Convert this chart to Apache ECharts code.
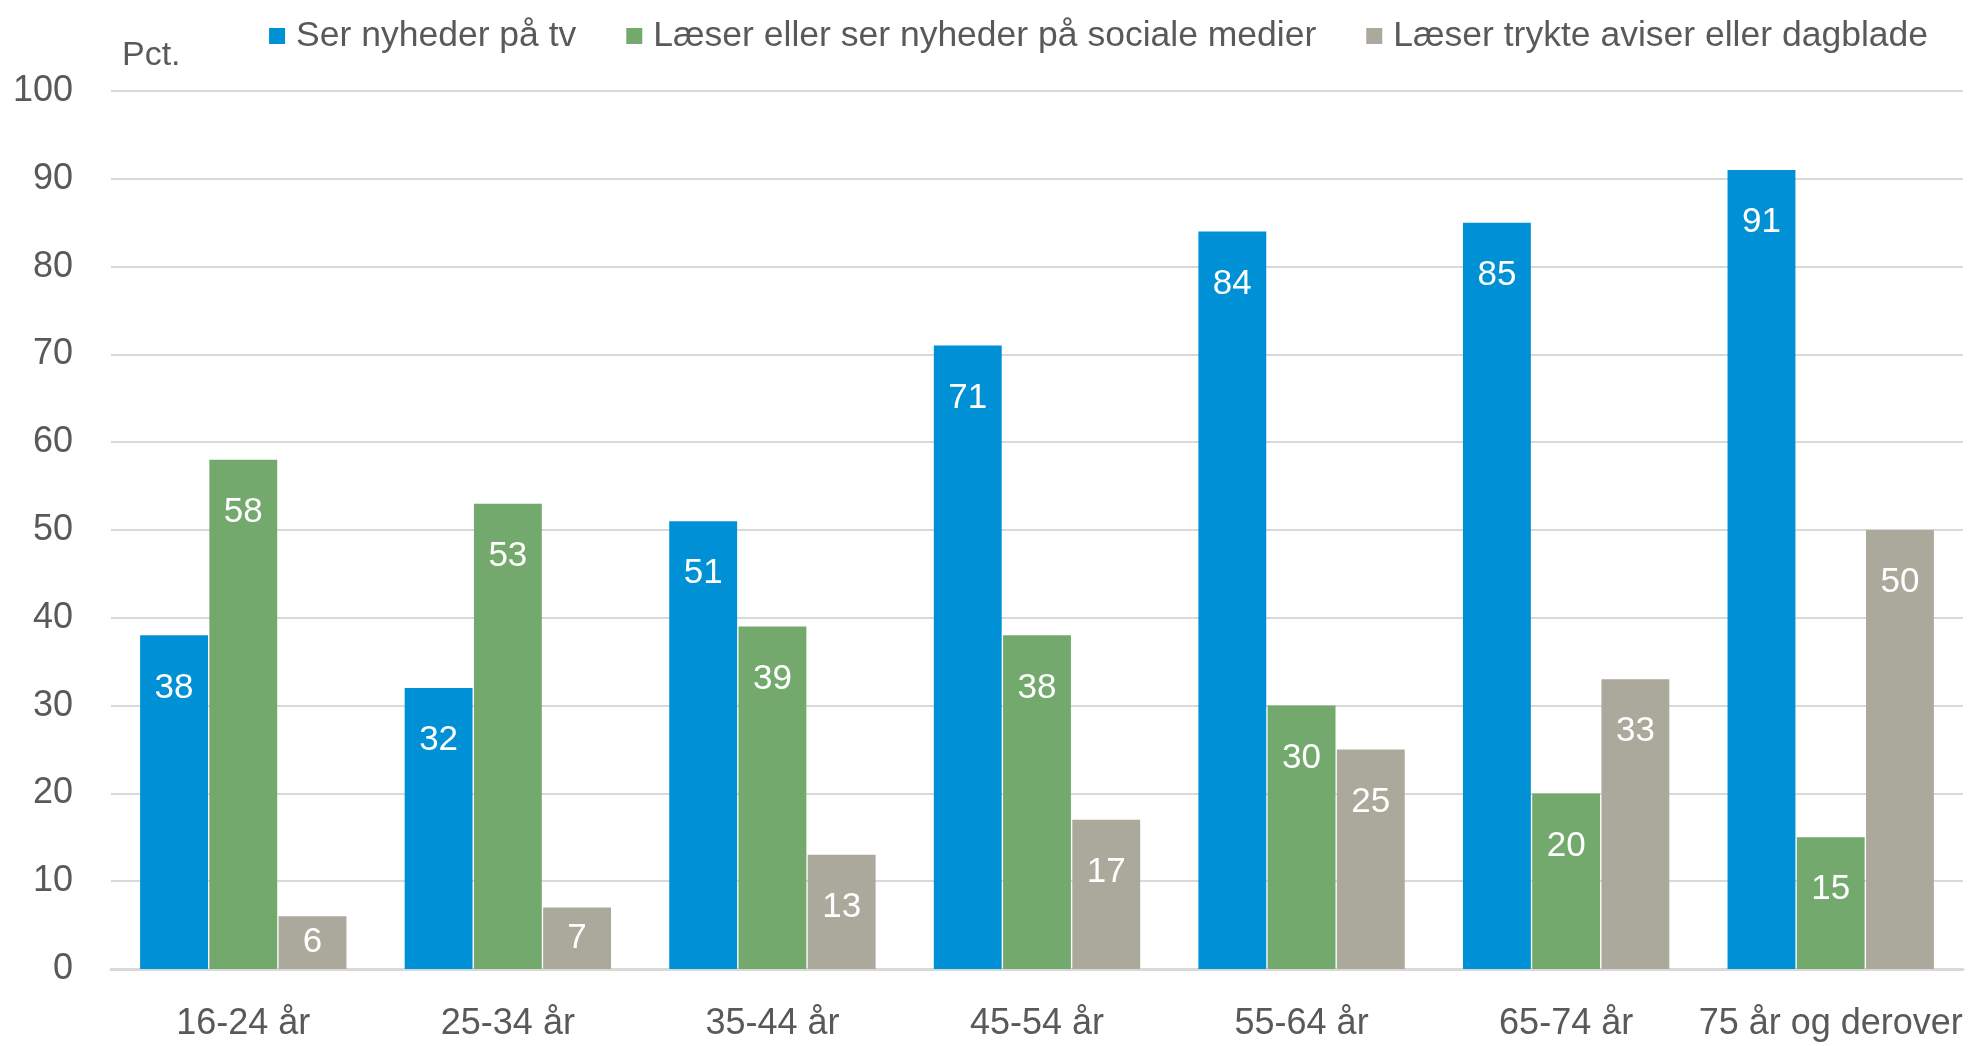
<!DOCTYPE html>
<html>
<head>
<meta charset="utf-8">
<script src="https://cdn.jsdelivr.net/npm/echarts@6/dist/echarts.min.js"></script>
<style>
  html, body { margin: 0; padding: 0; background: #fff; }
  #chart { width: 1973px; height: 1046px; }
</style>
</head>
<body>
<div id="chart"></div>
<script>
// categories and series values
const ageGroups = ['16-24 år', '25-34 år', '35-44 år', '45-54 år', '55-64 år', '65-74 år', '75 år og derover'];
const tvNews = [38, 32, 51, 71, 84, 85, 91];
const socialNews = [58, 53, 39, 38, 30, 20, 15];
const printNews = [6, 7, 13, 17, 25, 33, 50];
const seriesNames = ['Ser nyheder på tv', 'Læser eller ser nyheder på sociale medier', 'Læser trykte aviser eller dagblade'];

const FONT = '"Liberation Sans", Arial, sans-serif';
const TEXT = '#595959';

const chart = echarts.init(document.getElementById('chart'));

const barLabel = {
    show: true,
    position: 'insideTop',
    distance: 35,
    color: '#fff',
    fontFamily: FONT,
    fontSize: 35
};

// short bars get their label centred so it stays inside the bar
const withLabels = data => data.map(v => (v < 10 ? { value: v, label: { position: 'inside' } } : v));

const makeSeries = (name, data, color) => ({
    name,
    type: 'bar',
    data: withLabels(data),
    itemStyle: { color },
    barGap: '2%',
    barCategoryGap: '22%',
    label: barLabel,
    animation: false
});

chart.setOption({
    backgroundColor: '#fff',
    textStyle: { fontFamily: FONT },
    legend: {
        top: 13,
        right: 40,
        itemWidth: 16,
        itemHeight: 16,
        itemGap: 50,
        icon: 'rect',
        textStyle: { color: TEXT, fontSize: 35.5, fontFamily: FONT, padding: [0, 0, 0, 6] },
        data: seriesNames
    },
    grid: { top: 91, bottom: 77, left: 111, right: 10, containLabel: false },
    xAxis: {
        type: 'category',
        data: ageGroups,
        axisLine: { show: true, lineStyle: { color: '#d9d9d9', width: 3 } },
        axisTick: { show: false },
        axisLabel: { color: TEXT, fontSize: 36, fontFamily: FONT, margin: 37, interval: 0 }
    },
    yAxis: {
        type: 'value',
        min: 0,
        max: 100,
        interval: 10,
        name: 'Pct.',
        nameLocation: 'end',
        nameGap: 18,
        nameTextStyle: { color: TEXT, fontSize: 34, fontFamily: FONT, align: 'left', padding: [0, 0, 0, 11] },
        axisLine: { show: false },
        axisTick: { show: false },
        axisLabel: { color: TEXT, fontSize: 36, fontFamily: FONT, margin: 38 },
        splitLine: { lineStyle: { color: '#d9d9d9', width: 2 } }
    },
    series: [
        makeSeries(seriesNames[0], tvNews, '#0090d6'),
        makeSeries(seriesNames[1], socialNews, '#74a96e'),
        makeSeries(seriesNames[2], printNews, '#aba99b')
    ]
});
</script>
</body>
</html>
